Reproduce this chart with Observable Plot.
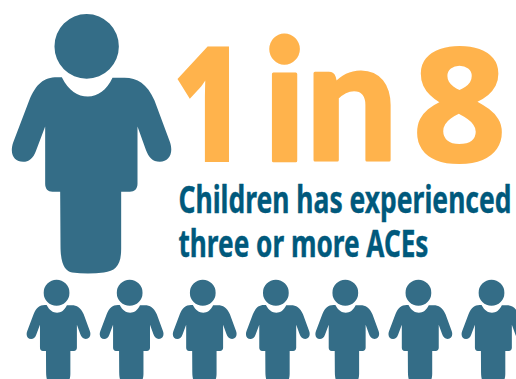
<!DOCTYPE html>
<html>
<head>
<meta charset="utf-8">
<style>html,body{margin:0;padding:0;background:#fff;overflow:hidden}svg{display:block}</style>
<script src="https://cdn.jsdelivr.net/npm/d3@7"></script>
<script src="https://cdn.jsdelivr.net/npm/@observablehq/plot@0.6"></script>
</head>
<body>
<script>
// One in eight: the large figure is the one child, the row is the other seven.
const highlighted = ["child"];
const others = [1, 2, 3, 4, 5, 6, 7];
const headline = ["1", "in", "8"];
const caption = ["Children has experienced", "three or more ACEs"];

const figureColor = "#346d87";
const headlineColor = "#ffb34c";
const captionColor = "#00597c";

// Figure outline in a unit box: one unit is half the figure's width.
const u = 240;
const ox = 258, oy = 430;
const person = {
  draw(ctx, size) {
    const k = Math.sqrt(size / Math.PI) / u;
    const X = (v) => (v - ox) * k, Y = (v) => (v - oy) * k;
    const M = (a, b) => ctx.moveTo(X(a), Y(b));
    const L = (a, b) => ctx.lineTo(X(a), Y(b));
    const C = (a, b, c, d, e, f) => ctx.bezierCurveTo(X(a), Y(b), X(c), Y(d), X(e), Y(f));
    // head
    ctx.moveTo(X(355), Y(138));
    ctx.arc(X(258.5), Y(138), 96.5 * k, 0, 2 * Math.PI);
    ctx.closePath();
    // body, arms and legs
    M(184, 230);
    C(204, 270, 232, 288, 262, 288);
    C(292, 288, 318, 270, 336, 232);
    L(372, 232);
    C(410, 232, 440, 250, 462, 300);
    L(508, 424);
    C(520, 458, 506, 484, 478, 484);
    C(456, 484, 444, 470, 436, 448);
    L(411, 378);
    L(411, 550);
    C(411, 565, 402, 574, 388, 574);
    L(362, 574);
    L(362, 745);
    C(362, 795, 345, 812, 310, 816);
    C(280, 820, 245, 820, 215, 816);
    C(195, 812, 180, 795, 180, 735);
    L(179, 574);
    L(156, 574);
    C(142, 574, 134, 565, 134, 550);
    L(134, 378);
    L(106, 452);
    C(98, 474, 84, 484, 68, 484);
    C(42, 484, 26, 462, 38, 426);
    L(86, 300);
    C(106, 250, 130, 230, 170, 230);
    ctx.closePath();
  }
};

// Squeezes a text run to a set advance width, which stands in for a condensed face.
const fitted = (length) => (index, scales, values, dimensions, context, next) => {
  const g = next(index, scales, values, dimensions, context);
  g.querySelectorAll("text").forEach((t) => {
    t.setAttribute("textLength", length);
    t.setAttribute("lengthAdjust", "spacingAndGlyphs");
  });
  return g;
};

const placed = (value, dx, dy, length, fontSize, fontWeight, fontFamily, fill, strokeWidth = 0) =>
  Plot.text([value], {
    frameAnchor: "top-left", dx, dy, text: (d) => d,
    textAnchor: "start", lineAnchor: "bottom",
    fontSize, fontWeight, fontFamily, fill,
    stroke: strokeWidth ? fill : "none", strokeWidth,
    render: fitted(length)
  });

// The row closes up slightly after its fourth figure.
const rowGap = (d) => (d > 4 ? d - 0.05 : d);

const chart = Plot.plot({
  width: 516,
  height: 379,
  margin: 0,
  x: {domain: [1, 7], range: [56, 494.6], axis: null},
  marks: [
    Plot.dot(highlighted, {frameAnchor: "top-left", dx: 86, dy: 143.3, r: 80, symbol: person, fill: figureColor, stroke: "none"}),
    Plot.dot(others, {x: rowGap, frameAnchor: "top", dy: 331.2, r: 32, symbol: person, fill: figureColor, stroke: "none"}),
    placed(headline[0], 172, 161, 72, 161, 900, "'Noto Sans', sans-serif", headlineColor),
    placed(headline[1], 263, 159.5, 134, 168, 900, "Lato, sans-serif", headlineColor, 3),
    placed(headline[2], 411, 161, 96, 161, 800, "'Noto Sans', sans-serif", headlineColor),
    placed(caption[0], 178, 212, 333, 37, 700, "'Noto Sans', sans-serif", captionColor, 0.4),
    placed(caption[1], 178, 256, 250, 37, 700, "'Noto Sans', sans-serif", captionColor, 0.4)
  ]
});
document.body.append(chart);
</script>
</body>
</html>
